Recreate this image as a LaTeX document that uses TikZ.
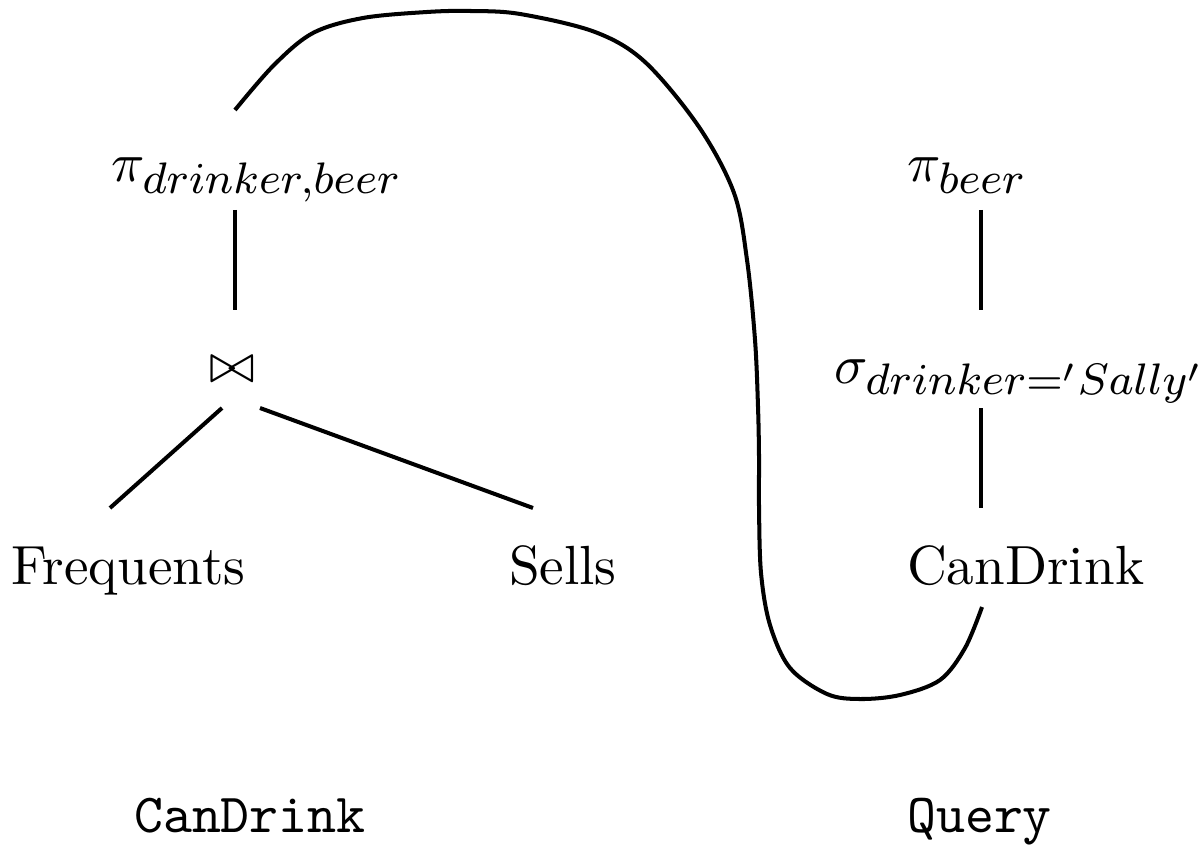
\documentclass[tikz,border=0pt]{standalone}
\DeclareMathSizes{10}{10}{8.5}{6}
\newcommand{\txs}[1]{\scalebox{1.03}{#1}}
\begin{document}
\begin{tikzpicture}[x=0.18667pt,y=-0.18667pt,
  lbl/.style={inner sep=0pt,anchor=base west},
  edge/.style={line width=0.75pt},
  curvestyle/.style={line width=0.75pt,line join=round}]
\useasboundingbox (0,0) rectangle (1200,845);
% left tree
\node[lbl] (pi1) at (110,182) {\txs{$\pi_{drinker,beer}$}};
\coordinate (pi1top) at (235,110);
\coordinate (pi1bot) at (235,210);
\coordinate (jtop) at (235,310);
\node[inner sep=0pt] (join) at (232,370) {\txs{$\bowtie$}};
\coordinate (jl) at (222,408);
\coordinate (jr) at (260,408);
\coordinate (fq) at (110,508);
\coordinate (se) at (533,508);
\node[lbl] (freq) at (10,584) {\txs{Frequents}};
\node[lbl] (sells) at (508,584) {\txs{Sells}};
\draw[edge] (pi1bot) -- (jtop);
\draw[edge] (jl) -- (fq);
\draw[edge] (jr) -- (se);
% right tree
\node[lbl] (pi2) at (906,182) {\txs{$\pi_{beer}$}};
\node[lbl] (sig) at (833,383) {\txs{$\sigma_{drinker='Sally'}$}};
\node[lbl] (cd) at (906,584) {\txs{CanDrink}};
\coordinate (p2b) at (981,210);
\coordinate (s2t) at (981,310);
\coordinate (s2b) at (981,408);
\coordinate (c2t) at (981,508);
\coordinate (cdbot) at (982,607);
\draw[edge] (p2b) -- (s2t);
\draw[edge] (s2b) -- (c2t);
% boundary curve
\draw[curvestyle] plot[smooth,tension=0.55] coordinates {
 (pi1top) (274,65) (313,33) (363,18) (427,12) (470,11) (520,14) (595,32)
 (645,62) (699,127) (734,193) (747,260) (755,340) (758,407) (759,457)
 (759,507) (761,573) (770,625) (790,668) (827,694) (860,699) (900,695)
 (940,680) (965,648) (cdbot)};
% captions
\node[lbl] (cap1) at (133,832) {\txs{\texttt{CanDrink}}};
\node[lbl] (cap2) at (906,832) {\txs{\texttt{Query}}};
\end{tikzpicture}
\end{document}
